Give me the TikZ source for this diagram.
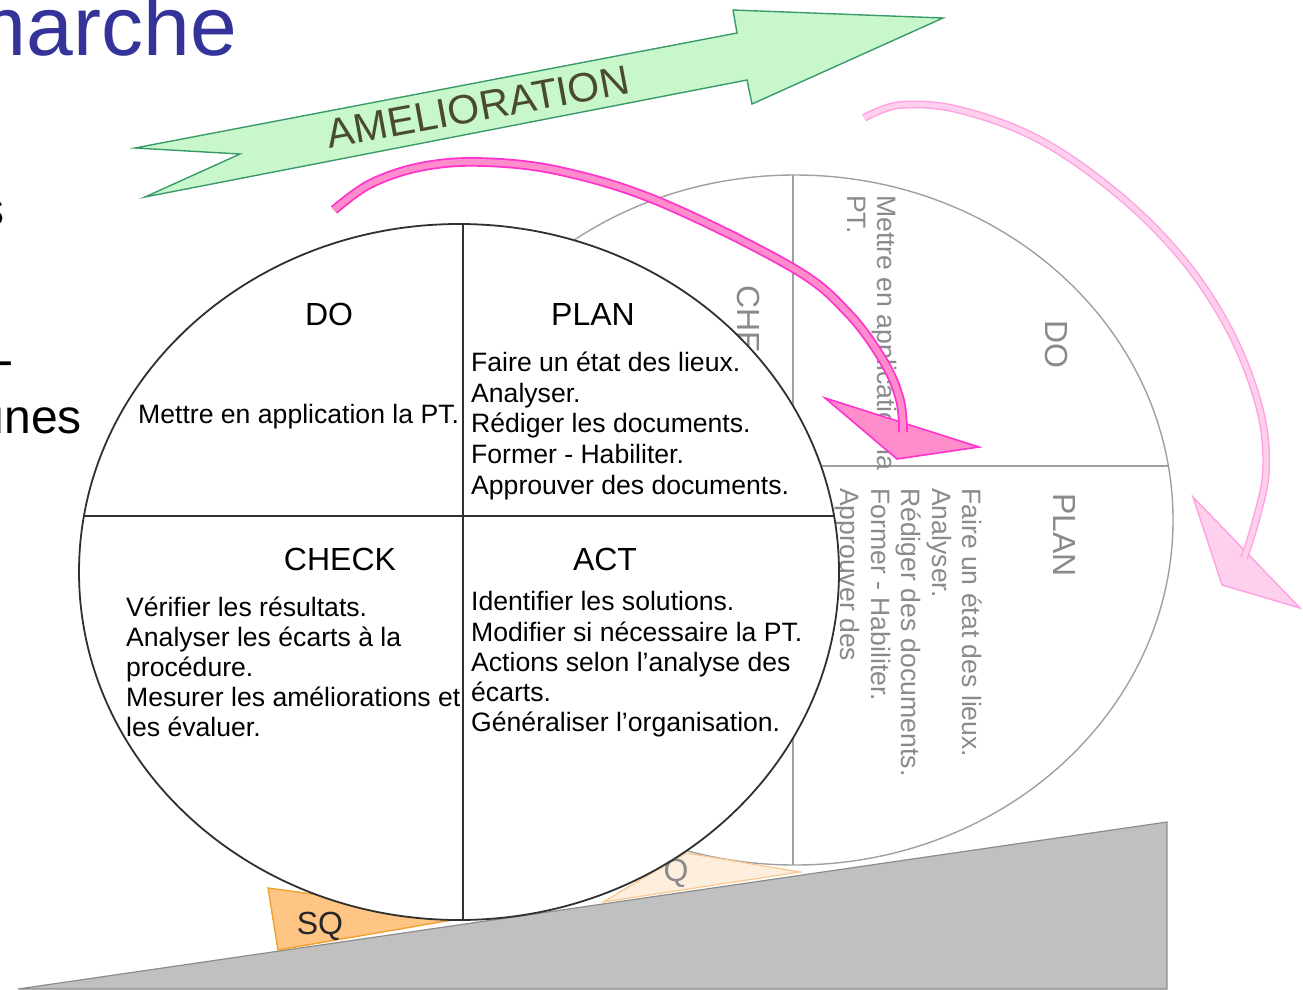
\documentclass[tikz,border=0pt]{standalone}
\usepackage{fontspec}
\setmainfont{Liberation Sans}
\definecolor{titleblue}{HTML}{333399}
\definecolor{greenfill}{HTML}{C8F7CC}
\definecolor{greenline}{HTML}{3A9A6A}
\definecolor{ameltext}{HTML}{4A4A30}
\definecolor{magline}{HTML}{FF33CC}
\definecolor{magfill}{HTML}{FF8CCB}
\definecolor{lpline}{HTML}{FFA0E0}
\definecolor{lpfill}{HTML}{FFD0EE}
\definecolor{ghostline}{HTML}{A0A0A0}
\definecolor{ghosttext}{HTML}{8A8A8A}
\definecolor{wheelline}{HTML}{303030}
\definecolor{groundfill}{HTML}{C0C0C0}
\definecolor{groundline}{HTML}{8C8C8C}
\definecolor{sqfill}{HTML}{FFC585}
\definecolor{sqline}{HTML}{F0A030}
\definecolor{qfill}{HTML}{FDEEDD}
\definecolor{qline}{HTML}{F8C890}
\tikzset{
  body/.style={font=\fontsize{26.6}{30}\selectfont, inner sep=0pt, anchor=base west},
  head/.style={font=\fontsize{32}{36}\selectfont, inner sep=0pt, anchor=base},
  gbody/.style={body, text=ghosttext, rotate=-90},
  ghead/.style={font=\fontsize{32}{36}\selectfont, inner sep=0pt, anchor=base west, text=ghosttext, rotate=-90},
  slide/.style={font=\fontsize{48}{56}\selectfont, inner sep=0pt, anchor=base east},
  wheel/.style={draw=wheelline, line width=1.8pt},
  ghostwheel/.style={draw=ghostline, line width=1.4pt},
}
\begin{document}
\begin{tikzpicture}[x=1pt,y=-1pt]
\useasboundingbox (0,0) rectangle (1303,989);
\clip (0,0) rectangle (1303,989);

% ground
\filldraw[fill=groundfill, draw=groundline, line width=1.2pt] (18,989) -- (1167,822) -- (1167,989) -- cycle;

% ghost wheel
\filldraw[fill=white, ghostwheel] (795,520) ellipse [x radius=378, y radius=345];
\begin{scope}
  \clip (795,520) ellipse [x radius=378, y radius=345];
  \draw[ghostwheel] (300,466) -- (1303,466);
  \draw[ghostwheel] (793,0) -- (793,989);
\end{scope}
\node[ghead] (gDO) at (1045,320) {DO};
\node[ghead] (gPLAN) at (1053,493) {PLAN};
\node[ghead] (gCHECK) at (737,285) {CHECK};
\node[gbody] (gdo1) at (877,195) {Mettre en application la};
\node[gbody] (gdo2) at (847,195) {PT.};
\node[gbody] (gplan1) at (962,488) {Faire un état des lieux.};
\node[gbody] (gplan2) at (932,488) {Analyser.};
\node[gbody] (gplan3) at (901,488) {Rédiger des documents.};
\node[gbody] (gplan4) at (871,488) {Former - Habiliter.};
\node[gbody] (gplan5) at (840,488) {Approuver des};

% Q wedge
\filldraw[fill=qfill, draw=qline, line width=1.2pt] (686,853) -- (800,872) -- (603,902) -- cycle;
\node[font=\fontsize{32}{36}\selectfont, text=ghosttext, inner sep=0pt] (qlabel) at (676,873) {Q};

% SQ wedge
\filldraw[fill=sqfill, draw=sqline, line width=1.4pt] (268,888) -- (475,916) -- (278,950) -- cycle;
\node[font=\fontsize{32}{36}\selectfont, text=black!85, inner sep=0pt] (sqlabel) at (320,926) {SQ};

% main wheel
\fill[white] (459,572) ellipse [x radius=380, y radius=348];
\begin{scope}
  \clip (459,572) ellipse [x radius=380, y radius=348];
  \draw[wheel] (0,516) -- (1303,516);
  \draw[wheel] (463,0) -- (463,989);
\end{scope}
\draw[wheel] (459,572) ellipse [x radius=380, y radius=348];

\node[head] (doH) at (329,325) {DO};
\node[head] (planH) at (593,325) {PLAN};
\node[head] (checkH) at (340,570) {CHECK};
\node[head] (actH) at (605,570) {ACT};

\node[body] (do1) at (138,423) {Mettre en application la PT.};

\node[body] (plan1) at (471,371) {Faire un état des lieux.};
\node[body] (plan2) at (471,402) {Analyser.};
\node[body] (plan3) at (471,432) {Rédiger les documents.};
\node[body] (plan4) at (471,463) {Former - Habiliter.};
\node[body] (plan5) at (471,494) {Approuver des documents.};

\node[body] (check1) at (126,616) {Vérifier les résultats.};
\node[body] (check2) at (126,646) {Analyser les écarts à la};
\node[body] (check3) at (126,676) {procédure.};
\node[body] (check4) at (126,706) {Mesurer les améliorations et};
\node[body] (check5) at (126,736) {les évaluer.};

\node[body] (act1) at (471,610) {Identifier les solutions.};
\node[body] (act2) at (471,641) {Modifier si nécessaire la PT.};
\node[body] (act3) at (471,671) {Actions selon l'analyse des};
\node[body] (act4) at (471,701) {écarts.};
\node[body] (act5) at (471,731) {Généraliser l'organisation.};

% green arrow
\filldraw[fill=greenfill, draw=greenline, line width=1.4pt, line join=miter]
  (135,148) -- (737,33) -- (733,10) -- (943,18) -- (752,104) -- (747,80) -- (145,197) -- (240,154) -- cycle;
\node[font=\fontsize{41}{46}\selectfont, text=ameltext, inner sep=0pt, rotate=10.5] (amel) at (478,107) {AMELIORATION};

% light pink arrow
\filldraw[fill=lpfill, draw=lpline, line width=1.4pt] (1193,497) -- (1222,585) -- (1300,608) -- cycle;
\draw[lpline, line width=1.4pt, double=lpfill, double distance=5pt]
  plot[smooth, tension=0.6] coordinates {(864,118) (900,105) (960,110) (1040,140) (1120,196) (1185,262) (1232,335) (1260,410) (1266,470) (1256,520) (1244,558)};

% magenta arrow
\filldraw[fill=magfill, draw=magline, line width=1.6pt] (825,398) -- (897,459) -- (979,447) -- cycle;
\draw[magline, line width=1.8pt, double=magfill, double distance=6pt]
  plot[smooth, tension=0.6] coordinates {(334,210) (370,184) (420,167) (480,162) (560,171) (660,202) (793,268) (848,313) (884,362) (900,400) (903,432)};

% title and slide text fragments
\node[font=\fontsize{84}{90}\selectfont, text=titleblue, inner sep=0pt, anchor=base east] (title) at (237,55) {marche};
\node[slide] (frag1) at (5,225) {s};
\node[slide] (frag2) at (14,376) {-};
\node[slide] (frag3) at (82,433) {unes};
\end{tikzpicture}
\end{document}
